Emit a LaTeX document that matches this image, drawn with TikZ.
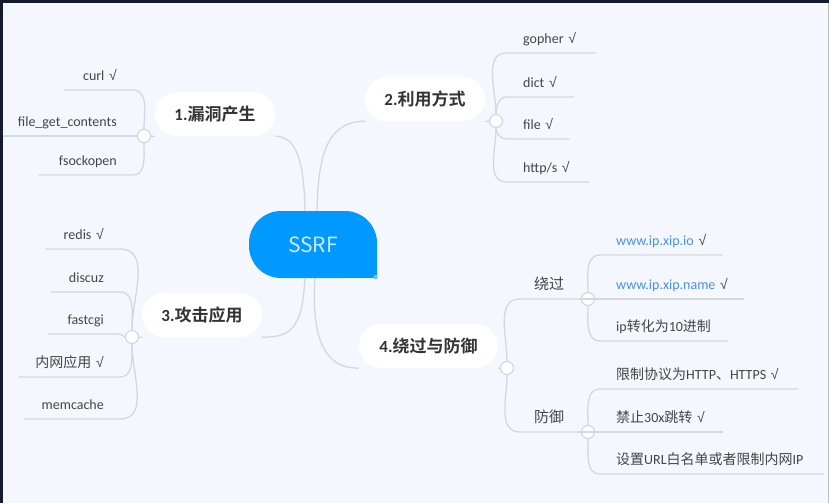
\documentclass[tikz,border=0pt]{standalone}
\usepackage{fontspec}
\setmainfont{Carlito}
\newfontfamily\cjk{Noto Sans CJK SC}[BoldFont={Noto Sans CJK SC Bold}]
\newfontfamily\symf{Liberation Sans}
\newcommand{\chkmark}{{\symf √}}
\usetikzlibrary{positioning,calc}
\definecolor{PageBg}{HTML}{F4F7FE}
\definecolor{FrameDark}{HTML}{141B2D}
\definecolor{RootBlue}{HTML}{0099FF}
\definecolor{RootText}{HTML}{CFE9FF}
\definecolor{LinkGrey}{HTML}{D3D7DE}
\definecolor{LeafText}{HTML}{454545}
\definecolor{UrlBlue}{HTML}{4A90E2}

\begin{document}
\begin{tikzpicture}[
  x=1pt,y=-1pt,
  every node/.style={inner sep=0pt},
  root/.style={fill=RootBlue,rounded corners=32pt,minimum width=128pt,minimum height=67pt,
    text=RootText,font=\cjk\fontsize{21}{24}\selectfont},
  branch/.style={fill=white,rounded corners=22pt,minimum height=44pt,
    text=black!80,font=\fontsize{17}{20}\selectfont\bfseries},
  knot/.style={circle,draw=LinkGrey,fill=white,line width=1.2pt,minimum size=13pt},
  leafl/.style={anchor=south east,text width=#1,align=right,text=LeafText,
    font=\fontsize{14}{16}\selectfont,text height=10pt,text depth=3pt,inner ysep=6pt},
  leafr/.style={anchor=south west,text width=#1,align=left,text=LeafText,
    font=\fontsize{14}{16}\selectfont,text height=10pt,text depth=3pt,inner ysep=6pt},
  link/.style={draw=LinkGrey,line width=1.3pt}
]
% page and frame
\fill[PageBg] (0,0) rectangle (829,503);
\fill[FrameDark] (0,0) rectangle (829,3);
\fill[FrameDark] (0,0) rectangle (2.5,503);
\draw[LinkGrey!70!gray,line width=1pt] (828.5,3) -- (828.5,503);
\useasboundingbox (0,0) rectangle (829,503);

% centre
\fill[RootBlue] (313,244.5) rectangle (377,278);
\node[root] (ssrf) at (313,244.5) {SSRF};
\fill[RootBlue!60!white] (375.5,277) circle (2.2pt);

% main branches
\node[branch,minimum width=120pt] (b1) at (215,114) {1.{\cjk 漏洞产生}};
\node[branch,minimum width=120pt] (b2) at (425,99) {2.{\cjk 利用方式}};
\node[branch,minimum width=120pt] (b3) at (202,315) {3.{\cjk 攻击应用}};
\node[branch,minimum width=139pt] (b4) at (428.5,346) {4.{\cjk 绕过与防御}};

\draw[link] (b1.south east) .. controls +(23,0) and +(-1,-45) .. ([xshift=-8pt]ssrf.north);
\draw[link] (b2.south west) .. controls +(-40,0) and +(1,-50) .. ([xshift=4pt]ssrf.north);
\draw[link] (b3.south east) .. controls +(28,0) and +(-3,52) .. ([xshift=-8pt]ssrf.south);
\draw[link] (b4.south west) .. controls +(-24,0) and +(-5,77) .. ([xshift=2pt]ssrf.south);

\node[knot] (k1) at (144,136) {};
\node[knot] (k2) at (496,121) {};
\node[knot] (k3) at (132,337) {};
\node[knot] (k4) at (507,368) {};
\draw[link] (k1) -- (b1.south west);
\draw[link] (k2) -- (b2.south east);
\draw[link] (k3) -- (b3.south west);
\draw[link] (k4) -- (b4.south east);

% 1
\node[leafl=52pt] (curl) at (117,90) {curl \chkmark};
\node[leafl=114pt] (fgc) at (117,136) {file\_get\_contents};
\node[leafl=78pt] (fsock) at (117,175) {fsockopen};
\draw[link] (curl.south west) -- ([xshift=16pt]curl.south east) to[out=0,in=90] (k1);
\draw[link] (fgc.south west) -- (k1);
\draw[link] (fsock.south west) -- ([xshift=16pt]fsock.south east) to[out=0,in=270] (k1);

% 2
\node[leafr=73pt] (gopher) at (523,53) {gopher \chkmark};
\node[leafr=51pt] (dict) at (523,97) {dict \chkmark};
\node[leafr=46pt] (file) at (523,139) {file \chkmark};
\node[leafr=66pt] (http) at (523,182) {http/s \chkmark};
\foreach \n/\d in {gopher/90,dict/90,file/270,http/270}
  \draw[link] (k2) to[out=\d,in=180] ([xshift=-16pt]\n.south west) -- (\n.south east);

% 3
\node[leafl=58pt] (redis) at (104,249) {redis \chkmark};
\node[leafl=53pt] (discuz) at (104,292) {discuz};
\node[leafl=55pt] (fcgi) at (104,334) {fastcgi};
\node[leafl=85pt] (intra) at (104,377) {{\cjk 内网应用} \chkmark};
\node[leafl=80pt] (memc) at (104,419) {memcache};
\foreach \n/\d in {redis/90,discuz/90,fcgi/180,intra/270,memc/270}
  \draw[link] (\n.south west) -- ([xshift=16pt]\n.south east) to[out=0,in=\d] (k3);

% 4
\node[leafr=54pt,font=\cjk\fontsize{15}{17}\selectfont] (bypass) at (534,299) {绕过};
\node[leafr=54pt,font=\cjk\fontsize{15}{17}\selectfont] (defend) at (534,432) {防御};
\node[knot] (k41) at (588,299) {};
\node[knot] (k42) at (588,432) {};
\draw[link] (k4) to[out=90,in=180] ([xshift=-14pt]bypass.south west) -- (k41);
\draw[link] (k4) to[out=270,in=180] ([xshift=-14pt]defend.south west) -- (k42);

\node[leafr=106pt] (xipio) at (616,255) {\textcolor{UrlBlue}{www.ip.xip.io} \chkmark};
\node[leafr=128pt] (xipname) at (616,299) {\textcolor{UrlBlue}{www.ip.xip.name} \chkmark};
\node[leafr=112pt] (dec) at (616,341) {ip{\cjk 转化为}10{\cjk 进制}};
\foreach \n/\d in {xipio/90,xipname/180,dec/270}
  \draw[link] (k41) to[out=\d,in=180] ([xshift=-16pt]\n.south west) -- (\n.south east);

\node[leafr=182pt] (proto) at (616,389) {{\cjk 限制协议为}HTTP{\cjk 、}HTTPS \chkmark};
\node[leafr=107pt] (redir) at (616,432) {{\cjk 禁止}30x{\cjk 跳转} \chkmark};
\node[leafr=207pt] (white) at (616,474) {{\cjk 设置}URL{\cjk 白名单或者限制内网}IP};
\foreach \n/\d in {proto/90,redir/180,white/270}
  \draw[link] (k42) to[out=\d,in=180] ([xshift=-16pt]\n.south west) -- (\n.south east);
\end{tikzpicture}
\end{document}
